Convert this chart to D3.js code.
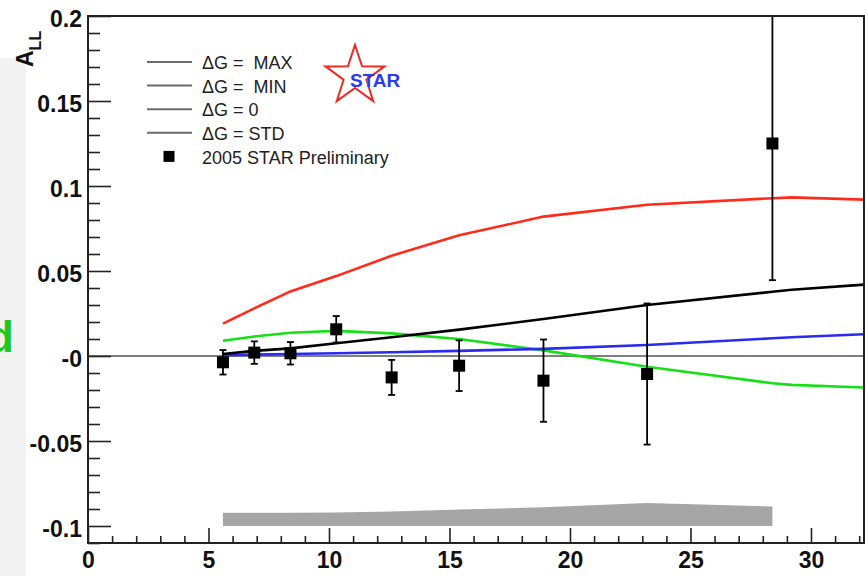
<!DOCTYPE html>
<meta charset="utf-8">
<title>A_LL vs pT</title>
<style>
body {
  margin: 0;
  background: #fff;
}
text {
  font-family: "Liberation Sans", Arial, sans-serif;
}
.axis path {
  display: none;
}
.axis line {
  stroke: #222;
  stroke-width: 1.6px;
}
.axis text {
  font-size: 23px;
  font-weight: bold;
  fill: #111;
}
</style>
<body>
<script src="https://d3js.org/d3.v7.min.js"></script>
<script>
var w = 867,
    h = 576;

// measured points (2005 STAR Preliminary)
var ptData = [5.6, 6.9, 8.4, 10.3, 12.6, 15.4, 18.9, 23.2, 28.4],
    allData = [-0.0037, 0.002, 0.0016, 0.0157, -0.0126, -0.0057, -0.0145, -0.0106, 0.125],
    errData = [0.0072, 0.0066, 0.0066, 0.0078, 0.0103, 0.0149, 0.0242, 0.0415, 0.0804];

// systematic band (height above -0.1)
var sysBand = [0.0078, 0.0078, 0.0078, 0.008, 0.0085, 0.0097, 0.011, 0.0135, 0.0115];

// theory curves
var ptCurve = [5.6, 6.9, 8.4, 10.3, 12.6, 15.4, 18.9, 23.2, 28.4, 29.2, 32.2],
    gMax = [0.019, 0.028, 0.038, 0.047, 0.059, 0.071, 0.082, 0.089, 0.0928, 0.0933, 0.092],
    gMin = [0.009, 0.0115, 0.0137, 0.0148, 0.0133, 0.010, 0.0033, -0.0063, -0.016, -0.017, -0.0185],
    gZero = [0.0005, 0.0008, 0.0012, 0.0016, 0.0022, 0.003, 0.0042, 0.0065, 0.0104, 0.011, 0.0128],
    gStd = [0.0012, 0.003, 0.0045, 0.0075, 0.011, 0.0155, 0.0218, 0.030, 0.0378, 0.039, 0.042];

var xTicks = [0, 5, 10, 15, 20, 25, 30],
    yTicks = [-0.1, -0.05, 0, 0.05, 0.1, 0.15, 0.2],
    yTickLabels = ["-0.1", "-0.05", "-0", "0.05", "0.1", "0.15", "0.2"];

var legendLabels = ["\u0394G =  MAX", "\u0394G =  MIN", "\u0394G = 0", "\u0394G = STD", "2005 STAR Preliminary"];

var x = d3.scaleLinear().domain([0, 32.2]).range([88, 864]),
    y = d3.scaleLinear().domain([-0.11, 0.2]).range([543, 16]);

var svg = d3.select("body").append("svg")
    .attr("width", w)
    .attr("height", h);

// slide remnant on the left
svg.append("rect")
    .attr("x", 0).attr("y", 58)
    .attr("width", 26).attr("height", h - 58)
    .style("fill", "#f2f2f2");
svg.append("text")
    .attr("x", 14).attr("y", 352)
    .attr("text-anchor", "end")
    .style("font-size", "44px")
    .style("font-weight", "bold")
    .style("fill", "#1ec81e")
    .text("d");

svg.append("clipPath").attr("id", "plot")
  .append("rect")
    .attr("x", 88).attr("y", 16)
    .attr("width", 776).attr("height", 527);

var g = svg.append("g").attr("clip-path", "url(#plot)");

// systematic band
g.append("path")
    .datum(ptData)
    .attr("d", d3.area()
        .x(function(d) { return x(d); })
        .y0(y(-0.1))
        .y1(function(d, i) { return y(-0.1 + sysBand[i]); }))
    .style("fill", "#a6a6a6");

// zero line
g.append("line")
    .attr("x1", x(0)).attr("x2", x(32.2))
    .attr("y1", y(0)).attr("y2", y(0))
    .style("stroke", "#000")
    .style("stroke-width", 1.2);

var line = d3.line()
    .x(function(d, i) { return x(ptCurve[i]); })
    .y(function(d) { return y(d); });

[[gMax, "#ff2a1a"], [gMin, "#16e016"], [gZero, "#2a2af0"], [gStd, "#000"]].forEach(function(c) {
  g.append("path")
      .datum(c[0])
      .attr("d", line)
      .style("fill", "none")
      .style("stroke", c[1])
      .style("stroke-width", 2.6);
});

// points with error bars
var pts = g.selectAll(".pt")
    .data(ptData)
  .enter().append("g")
    .attr("class", "pt");
pts.append("line")
    .attr("x1", function(d) { return x(d); })
    .attr("x2", function(d) { return x(d); })
    .attr("y1", function(d, i) { return y(allData[i] - errData[i]); })
    .attr("y2", function(d, i) { return y(allData[i] + errData[i]); })
    .style("stroke", "#000").style("stroke-width", 1.8);
[-1, 1].forEach(function(s) {
  pts.append("line")
      .attr("x1", function(d) { return x(d) - 3.5; })
      .attr("x2", function(d) { return x(d) + 3.5; })
      .attr("y1", function(d, i) { return y(allData[i] + s * errData[i]); })
      .attr("y2", function(d, i) { return y(allData[i] + s * errData[i]); })
      .style("stroke", "#000").style("stroke-width", 1.8);
});
pts.append("rect")
    .attr("x", function(d) { return x(d) - 6; })
    .attr("y", function(d, i) { return y(allData[i]) - 6; })
    .attr("width", 12).attr("height", 12)
    .style("fill", "#000");

// axes, ticks pointing inward
svg.append("g")
    .attr("class", "axis")
    .attr("transform", "translate(88,0)")
    .call(d3.axisLeft(y).tickValues(yTicks).tickSize(-23).tickPadding(6)
        .tickFormat(function(d, i) { return yTickLabels[i]; }))
    .selectAll("text").attr("dy", "0.45em");
svg.append("g")
    .attr("class", "axis")
    .attr("transform", "translate(88,0)")
    .call(d3.axisLeft(y)
        .tickValues(d3.range(-11, 21).filter(function(i) { return i % 5; }).map(function(i) { return i / 100; }))
        .tickSize(-12).tickFormat(""));
svg.append("g")
    .attr("class", "axis")
    .attr("transform", "translate(0,543)")
    .call(d3.axisBottom(x).tickValues(xTicks).tickSize(-15).tickPadding(9)
        .tickFormat(d3.format("d")))
    .selectAll("text").attr("dy", "0.71em");
svg.append("g")
    .attr("class", "axis")
    .attr("transform", "translate(0,543)")
    .call(d3.axisBottom(x)
        .tickValues(d3.range(1, 33).filter(function(i) { return i % 5; }))
        .tickSize(-7).tickFormat(""));

// frame
svg.append("rect")
    .attr("x", 88).attr("y", 16)
    .attr("width", 776).attr("height", 527)
    .style("fill", "none")
    .style("stroke", "#222")
    .style("stroke-width", 2);

// y title
var title = svg.append("text")
    .attr("transform", "translate(33,67)rotate(-90)")
    .style("font-size", "23px")
    .style("font-weight", "bold")
    .style("fill", "#111");
title.append("tspan").text("A");
title.append("tspan").attr("dy", 8).style("font-size", "16px").text("LL");

// legend
var leg = svg.append("g").attr("class", "legend");
var rows = leg.selectAll("g")
    .data(legendLabels)
  .enter().append("g")
    .attr("transform", function(d, i) { return "translate(0," + (62 + i * 23.6) + ")"; });
rows.filter(function(d, i) { return i < 4; }).append("line")
    .attr("x1", 147).attr("x2", 192)
    .style("stroke", "#6a6a6a")
    .style("stroke-width", 2);
rows.filter(function(d, i) { return i == 4; }).append("rect")
    .attr("x", 163.5).attr("y", -5.5)
    .attr("width", 11).attr("height", 11)
    .style("fill", "#000");
rows.append("text")
    .attr("x", 202).attr("dy", "0.4em")
    .style("font-size", "18px")
    .style("fill", "#222")
    .style("white-space", "pre")
    .text(function(d) { return d; });

// STAR logo
var star = d3.range(10).map(function(i) {
  var r = i % 2 ? 12 : 31,
      a = -Math.PI / 2 + i * Math.PI / 5;
  return [355 + r * Math.cos(a), 76 + r * Math.sin(a)];
});
svg.append("path")
    .attr("d", "M" + star.join("L") + "Z")
    .style("fill", "#fff")
    .style("stroke", "#f0281e")
    .style("stroke-width", 2);
svg.append("text")
    .attr("x", 350).attr("y", 87)
    .style("font-size", "19px")
    .style("font-weight", "bold")
    .style("fill", "#2a3cf0")
    .text("STAR");
</script>
